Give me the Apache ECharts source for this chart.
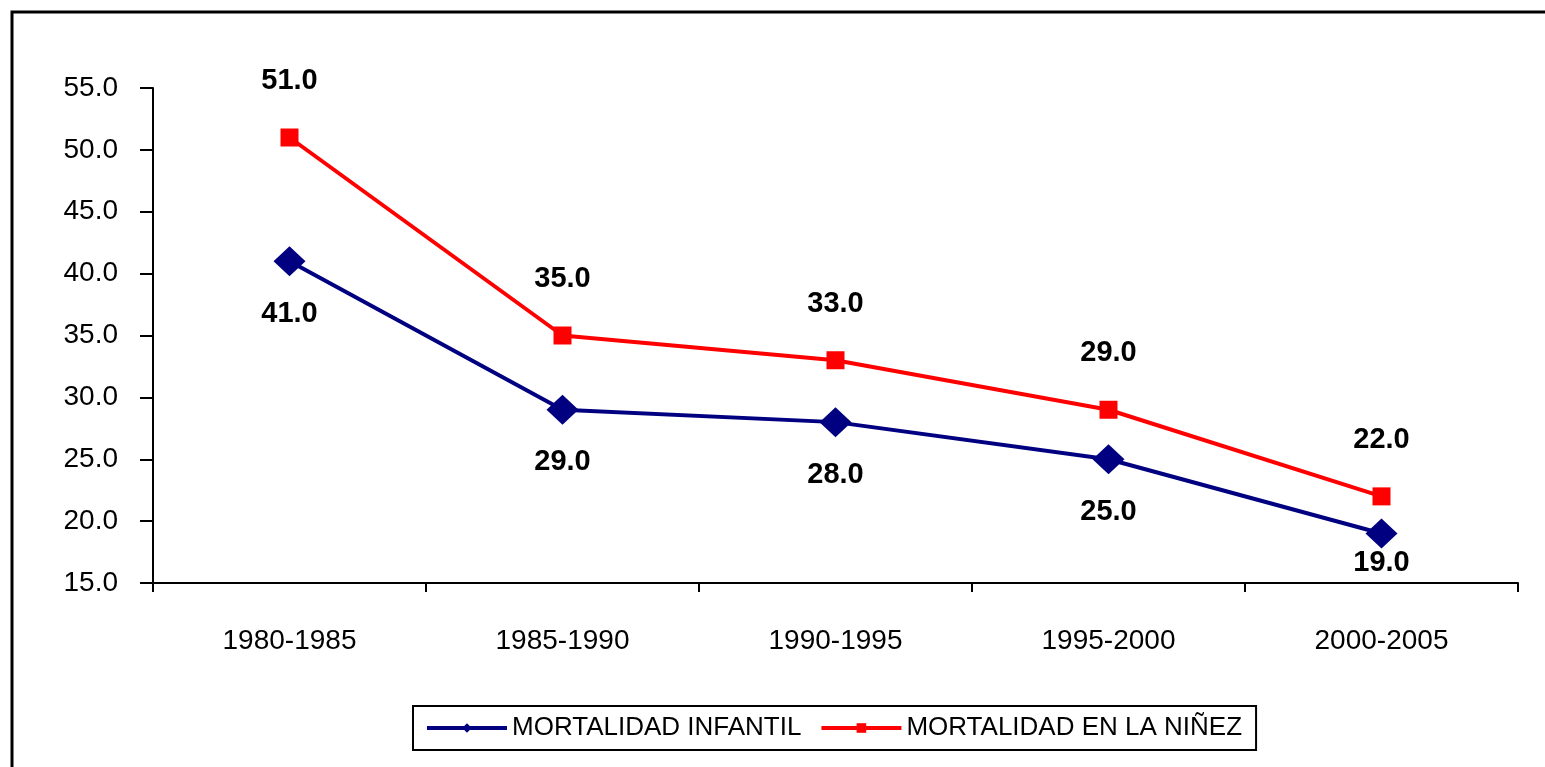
<!DOCTYPE html>
<html>
<head>
<meta charset="utf-8">
<script src="https://cdn.jsdelivr.net/npm/echarts@6/dist/echarts.min.js"></script>
<style>
  html, body { margin: 0; padding: 0; background: #fff; }
  #chart { width: 1545px; height: 767px; }
</style>
</head>
<body>
<div id="chart"></div>
<script>
// periods and rates
const periods = ['1980-1985', '1985-1990', '1990-1995', '1995-2000', '2000-2005']
const infantil = [41, 29, 28, 25, 19]
const ninez = [51, 35, 33, 29, 22]
const yTicks = { min: 15, max: 55, interval: 5 }

const chart = echarts.init(document.getElementById('chart'))
const font = 'Liberation Sans, Arial, sans-serif'

const valueLabel = p => p.value.toFixed(1)

chart.setOption({
  animation: false,
  textStyle: { fontFamily: font },
  graphic: [{
    type: 'polyline',
    shape: { points: [[12, 770], [12, 12], [1550, 12]] },
    style: { stroke: '#000', lineWidth: 3, fill: null }
  }],
  grid: { left: 153, right: 27, top: 88, bottom: 184 },
  legend: {
    left: 413,
    top: 706,
    orient: 'horizontal',
    borderColor: '#000',
    borderWidth: 2,
    padding: [9, 14, 9, 12],
    itemWidth: 80,
    itemHeight: 12,
    itemGap: 18,
    lineStyle: { width: 4 },
    textStyle: { fontSize: 26, color: '#000', fontFamily: font },
    data: ['MORTALIDAD INFANTIL', 'MORTALIDAD EN LA NIÑEZ']
  },
  xAxis: {
    type: 'category',
    data: periods,
    boundaryGap: true,
    axisLine: { lineStyle: { color: '#000', width: 2 } },
    axisTick: { show: true, length: 9, lineStyle: { color: '#000', width: 2 } },
    axisLabel: { color: '#000', fontSize: 28, margin: 44, fontFamily: font },
    splitLine: { show: false }
  },
  yAxis: {
    type: 'value',
    min: yTicks.min,
    max: yTicks.max,
    interval: yTicks.interval,
    axisLine: { show: true, lineStyle: { color: '#000', width: 2 } },
    axisTick: { show: true, length: 13, lineStyle: { color: '#000', width: 2 } },
    axisLabel: {
      color: '#000', fontSize: 28, margin: 35, fontFamily: font,
      formatter: v => v.toFixed(1)
    },
    splitLine: { show: false }
  },
  series: [
    {
      name: 'MORTALIDAD INFANTIL',
      type: 'line',
      // last label sits closer to the point so it stays above the axis
      data: infantil.map((v, i) => i === infantil.length - 1 ? { value: v, label: { distance: 0 } } : v),
      symbol: 'diamond',
      symbolSize: [32, 30],
      lineStyle: { color: '#000080', width: 4 },
      itemStyle: { color: '#000080' },
      label: {
        show: true, position: 'bottom', distance: 23,
        fontSize: 29, fontWeight: 'bold', color: '#000',
        formatter: valueLabel
      }
    },
    {
      name: 'MORTALIDAD EN LA NIÑEZ',
      type: 'line',
      data: ninez,
      symbol: 'rect',
      symbolSize: 18,
      lineStyle: { color: '#ff0000', width: 4 },
      itemStyle: { color: '#ff0000' },
      label: {
        show: true, position: 'top', distance: 33,
        fontSize: 29, fontWeight: 'bold', color: '#000',
        formatter: valueLabel
      }
    }
  ]
})
</script>
</body>
</html>
